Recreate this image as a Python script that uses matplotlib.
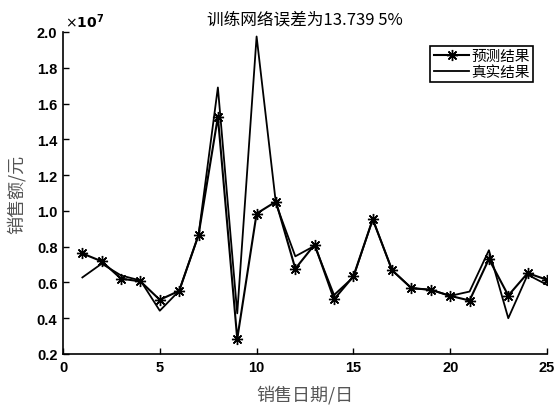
import matplotlib.pyplot as plt
import numpy as np

plt.rcParams['font.family'] = ['Noto Sans CJK SC', 'DejaVu Sans']

# 销售日期 (日)
days = list(range(1, 26))

# 销售额 (×10^7 元)
pred = [0.762, 0.718, 0.621, 0.606, 0.503, 0.553, 0.865, 1.526, 0.285, 0.985,
        1.052, 0.677, 0.812, 0.506, 0.634, 0.953, 0.668, 0.568, 0.559, 0.525,
        0.499, 0.731, 0.527, 0.652, 0.615]
real = [0.628, 0.705, 0.639, 0.611, 0.442, 0.553, 0.865, 1.690, 0.427, 1.975,
        1.040, 0.746, 0.805, 0.530, 0.630, 0.953, 0.668, 0.568, 0.559, 0.525,
        0.549, 0.780, 0.400, 0.643, 0.587]

title = '训练网络误差为13.739 5%'
xticks = [0, 5, 10, 15, 20, 25]
yticks = [0.2, 0.4, 0.6, 0.8, 1.0, 1.2, 1.4, 1.6, 1.8, 2.0]

fig = plt.figure(figsize=(5.54, 4.10), dpi=100)
ax = fig.add_axes([63/554, 55/410, 484/554, 322/410])

ax.plot(days, pred, color='black', lw=1.5, marker=(8, 2, 0), markersize=8,
        markeredgewidth=1.0, label='预测结果')
ax.plot(days, real, color='black', lw=1.3, label='真实结果')

ax.set_xlim(0, 25)
ax.set_ylim(0.2, 2.0)
ax.set_xticks(xticks)
ax.set_yticks(yticks)
ax.set_xticklabels([str(t) for t in xticks], fontfamily='Liberation Sans',
                   fontweight='bold', fontsize=10.5)
ax.set_yticklabels([f'{t:.1f}' for t in yticks], fontfamily='Liberation Sans',
                   fontweight='bold', fontsize=10.5)
ax.tick_params(direction='in', length=4, width=1, pad=4)
ax.spines['top'].set_visible(False)
ax.spines['right'].set_visible(False)
for s in ['left', 'bottom']:
    ax.spines[s].set_linewidth(1.2)

ax.text(0.005, 1.005, r'$\times\mathbf{10^{7}}$', transform=ax.transAxes,
        fontsize=10, ha='left', va='bottom', fontfamily='Liberation Sans')

ax.set_title(title, fontsize=12, pad=6)
ax.set_xlabel('销售日期/日', fontsize=13, color='#555555', labelpad=8)
ax.set_ylabel('销售额/元', fontsize=13, color='#555555', labelpad=8)

leg = ax.legend(loc='upper right', bbox_to_anchor=(0.972, 0.958), fancybox=False,
                edgecolor='black', framealpha=1, handlelength=2.4,
                borderpad=0.25, labelspacing=0.1, handletextpad=0.15,
                borderaxespad=0, prop={'weight': 'medium', 'size': 10.5})
leg.get_frame().set_linewidth(1.2)

fig.savefig('out.png', dpi=100)
